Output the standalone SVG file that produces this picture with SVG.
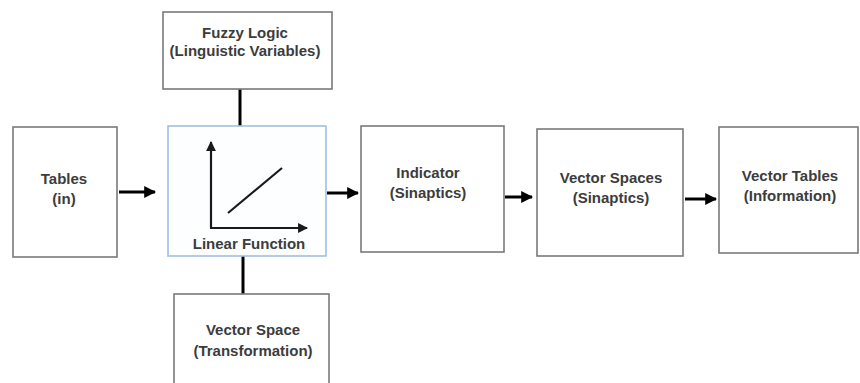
<svg xmlns="http://www.w3.org/2000/svg" width="860" height="383" viewBox="0 0 860 383">
<style>
.box{fill:#fff;stroke:#7a7a7a;stroke-width:1.6}
.lf{fill:#fdfeff;stroke:#9fc0df;stroke-width:1.6}
.t{font-family:"Liberation Sans",Arial,sans-serif;font-weight:bold;font-size:15px;fill:#3c3c3c;text-anchor:middle}
.c{stroke:#000;stroke-width:3;fill:none}
.ax{stroke:#1a1a1a;stroke-width:2.2;fill:none}
</style>
<defs>
<marker id="ah" viewBox="0 0 10 10" refX="9" refY="5" markerWidth="4" markerHeight="4" orient="auto" markerUnits="strokeWidth">
<path d="M0,0 L10,5 L0,10 z" fill="#000"/>
</marker>
<marker id="axh" viewBox="0 0 10 10" refX="9" refY="5" markerWidth="4.5" markerHeight="4.5" orient="auto" markerUnits="strokeWidth">
<path d="M0,0 L10,5 L0,10 z" fill="#1a1a1a"/>
</marker>
</defs>
<rect width="860" height="383" fill="#fff"/>
<g id="connectors">
<line class="c" x1="240" y1="89" x2="240" y2="126"/>
<line class="c" x1="243" y1="256" x2="243" y2="294"/>
<line class="c" x1="119" y1="192" x2="155" y2="192" marker-end="url(#ah)"/>
<line class="c" x1="327" y1="193" x2="358" y2="193" marker-end="url(#ah)"/>
<line class="c" x1="505" y1="197" x2="532" y2="197" marker-end="url(#ah)"/>
<line class="c" x1="685" y1="199" x2="716" y2="199" marker-end="url(#ah)"/>
</g>
<g id="fuzzy">
<rect class="box" x="163" y="12" width="169" height="77"/>
<text class="t" x="245" y="38">Fuzzy Logic</text>
<text class="t" x="245" y="56">(Linguistic Variables)</text>
</g>
<g id="tables">
<rect class="box" x="13" y="127" width="104" height="130"/>
<text class="t" x="64" y="184">Tables</text>
<text class="t" x="64" y="204">(in)</text>
</g>
<g id="linear">
<rect class="lf" x="168" y="126" width="158" height="130"/>
<line class="ax" x1="211" y1="228" x2="211" y2="142" marker-end="url(#axh)"/>
<line class="ax" x1="210" y1="228" x2="307" y2="228" marker-end="url(#axh)"/>
<line class="ax" x1="228" y1="213" x2="282" y2="168"/>
<text class="t" x="249" y="249">Linear Function</text>
</g>
<g id="vectorspace">
<rect class="box" x="174" y="294" width="155" height="100"/>
<text class="t" x="253" y="335">Vector Space</text>
<text class="t" x="253" y="356">(Transformation)</text>
</g>
<g id="indicator">
<rect class="box" x="361" y="126" width="143" height="126"/>
<text class="t" x="428" y="178">Indicator</text>
<text class="t" x="428" y="198">(Sinaptics)</text>
</g>
<g id="vectorspaces">
<rect class="box" x="537" y="129" width="146" height="127"/>
<text class="t" x="611" y="183">Vector Spaces</text>
<text class="t" x="611" y="203">(Sinaptics)</text>
</g>
<g id="vectortables">
<rect class="box" x="719" y="127" width="139" height="126"/>
<text class="t" x="790" y="181">Vector Tables</text>
<text class="t" x="790" y="201">(Information)</text>
</g>
</svg>
